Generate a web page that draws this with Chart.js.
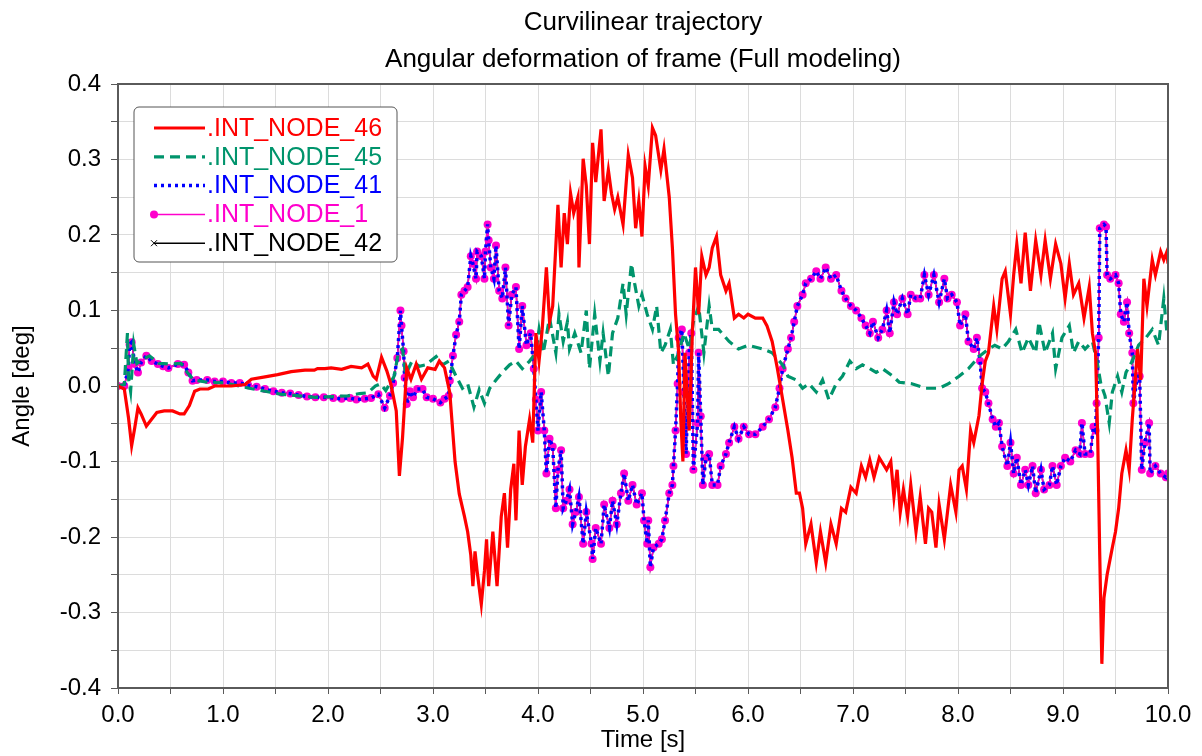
<!DOCTYPE html>
<html>
<head>
<meta charset="utf-8">
<script src="https://cdn.jsdelivr.net/npm/chart.js@4.4.1/dist/chart.umd.min.js"></script>
<style>
  html, body { margin: 0; padding: 0; background: #fff; }
  #wrap { width: 1202px; height: 756px; }
</style>
</head>
<body>
<div id="wrap"><canvas id="chart" width="1202" height="756"></canvas></div>
<script>
// [time s, angle deg]
var node46 = [[0,0],[0.06,-0.004],[0.1,-0.042],[0.13,-0.079],[0.16,-0.055],[0.19,-0.029],[0.22,-0.037],[0.27,-0.053],[0.32,-0.044],[0.37,-0.035],[0.44,-0.033],[0.52,-0.033],[0.59,-0.037],[0.63,-0.037],[0.68,-0.026],[0.73,-0.007],[0.78,-0.004],[0.86,-0.004],[0.92,0],[1.08,0],[1.21,0.002],[1.27,0.009],[1.4,0.012],[1.52,0.015],[1.65,0.019],[1.78,0.021],[1.87,0.021],[1.9,0.023],[1.97,0.023],[2.03,0.024],[2.13,0.022],[2.22,0.026],[2.32,0.024],[2.38,0.029],[2.43,0.013],[2.46,0.009],[2.51,0.038],[2.56,0.02],[2.6,0.002],[2.65,-0.033],[2.68,-0.119],[2.71,-0.068],[2.75,0.024],[2.79,0.009],[2.84,0.029],[2.89,0.009],[2.95,0.024],[3.02,0.022],[3.06,0.033],[3.11,0.024],[3.16,-0.009],[3.21,-0.1],[3.25,-0.143],[3.3,-0.173],[3.33,-0.193],[3.36,-0.224],[3.38,-0.265],[3.4,-0.219],[3.42,-0.245],[3.46,-0.289],[3.49,-0.245],[3.51,-0.203],[3.53,-0.265],[3.57,-0.193],[3.61,-0.265],[3.65,-0.173],[3.68,-0.142],[3.71,-0.214],[3.74,-0.137],[3.77,-0.103],[3.79,-0.178],[3.82,-0.059],[3.85,-0.131],[3.88,-0.08],[3.92,-0.044],[3.95,-0.075],[3.98,0.07],[4.01,0.033],[4.04,0.075],[4.08,0.157],[4.11,0.085],[4.14,0.106],[4.19,0.24],[4.22,0.157],[4.25,0.229],[4.28,0.188],[4.31,0.255],[4.34,0.229],[4.38,0.25],[4.39,0.157],[4.43,0.301],[4.46,0.265],[4.49,0.188],[4.52,0.322],[4.55,0.27],[4.6,0.34],[4.63,0.245],[4.67,0.286],[4.7,0.255],[4.73,0.234],[4.76,0.25],[4.81,0.214],[4.86,0.306],[4.9,0.276],[4.93,0.209],[4.96,0.245],[4.99,0.198],[5.02,0.291],[5.05,0.265],[5.09,0.342],[5.12,0.332],[5.17,0.286],[5.2,0.314],[5.25,0.25],[5.28,0.183],[5.31,0.095],[5.34,0.044],[5.36,-0.044],[5.38,-0.1],[5.4,0.044],[5.44,-0.059],[5.47,0.07],[5.5,0.157],[5.53,0.095],[5.56,0.172],[5.6,0.147],[5.63,0.157],[5.66,0.183],[5.7,0.198],[5.74,0.147],[5.79,0.126],[5.82,0.136],[5.87,0.09],[5.91,0.095],[5.96,0.09],[6.0,0.095],[6.07,0.09],[6.14,0.09],[6.18,0.08],[6.23,0.059],[6.28,0.023],[6.33,-0.018],[6.38,-0.059],[6.42,-0.095],[6.46,-0.142],[6.49,-0.142],[6.52,-0.162],[6.55,-0.209],[6.6,-0.183],[6.65,-0.234],[6.69,-0.193],[6.74,-0.234],[6.79,-0.183],[6.84,-0.209],[6.89,-0.162],[6.93,-0.167],[6.98,-0.134],[7.03,-0.142],[7.08,-0.106],[7.12,-0.121],[7.16,-0.098],[7.2,-0.121],[7.25,-0.095],[7.32,-0.111],[7.36,-0.1],[7.39,-0.147],[7.42,-0.111],[7.45,-0.167],[7.48,-0.137],[7.52,-0.173],[7.55,-0.131],[7.6,-0.193],[7.64,-0.147],[7.69,-0.209],[7.72,-0.162],[7.75,-0.167],[7.79,-0.214],[7.82,-0.157],[7.87,-0.203],[7.93,-0.131],[7.98,-0.167],[8.01,-0.111],[8.04,-0.106],[8.08,-0.137],[8.12,-0.059],[8.15,-0.075],[8.2,-0.039],[8.23,0.003],[8.26,0.033],[8.29,0.044],[8.34,0.106],[8.37,0.075],[8.42,0.142],[8.45,0.152],[8.5,0.095],[8.53,0.147],[8.56,0.188],[8.6,0.136],[8.64,0.203],[8.69,0.126],[8.74,0.193],[8.79,0.147],[8.83,0.193],[8.88,0.142],[8.93,0.188],[8.98,0.162],[9.02,0.116],[9.06,0.162],[9.1,0.121],[9.15,0.136],[9.2,0.09],[9.25,0.131],[9.28,0.07],[9.31,0.044],[9.33,-0.064],[9.35,-0.224],[9.37,-0.368],[9.39,-0.281],[9.42,-0.25],[9.47,-0.214],[9.5,-0.193],[9.53,-0.162],[9.56,-0.116],[9.6,-0.085],[9.63,-0.111],[9.66,-0.044],[9.71,0.049],[9.74,0.008],[9.77,0.142],[9.8,0.106],[9.85,0.167],[9.88,0.147],[9.93,0.178],[9.96,0.167],[9.99,0.178],[10,0.162]];

var node45 = [[0,0],[0.06,0.002],[0.09,0.07],[0.1,0.01],[0.12,-0.007],[0.15,0.055],[0.18,0.03],[0.22,0.034],[0.3,0.04],[0.39,0.03],[0.5,0.029],[0.6,0.03],[0.66,0.018],[0.72,0.008],[0.85,0.005],[1.02,0.004],[1.25,-0.003],[1.4,-0.007],[1.56,-0.011],[1.72,-0.013],[1.88,-0.015],[2.05,-0.014],[2.19,-0.013],[2.3,-0.01],[2.38,-0.009],[2.45,0.0],[2.5,0.003],[2.55,-0.006],[2.63,0.013],[2.67,0.044],[2.71,0.049],[2.74,0.015],[2.8,0.033],[2.87,0.026],[2.93,0.028],[3.03,0.039],[3.09,0.028],[3.15,0.033],[3.22,0.013],[3.28,-0.003],[3.33,0.003],[3.39,-0.028],[3.44,-0.005],[3.49,-0.023],[3.54,-0.003],[3.6,0.008],[3.66,0.018],[3.73,0.028],[3.79,0.033],[3.85,0.023],[3.92,0.033],[3.98,0.044],[4.01,0.075],[4.05,0.044],[4.11,0.09],[4.17,0.044],[4.2,0.095],[4.24,0.059],[4.28,0.085],[4.3,0.049],[4.35,0.07],[4.41,0.044],[4.46,0.1],[4.49,0.023],[4.54,0.095],[4.59,0.033],[4.62,0.07],[4.67,0.013],[4.71,0.07],[4.76,0.09],[4.81,0.136],[4.84,0.095],[4.89,0.162],[4.92,0.136],[4.96,0.106],[4.99,0.121],[5.04,0.095],[5.09,0.075],[5.13,0.106],[5.17,0.044],[5.21,0.054],[5.26,0.075],[5.29,0.028],[5.34,0.044],[5.39,0.07],[5.44,0.049],[5.48,0.085],[5.53,0.106],[5.58,0.044],[5.63,0.106],[5.66,0.075],[5.72,0.075],[5.82,0.059],[5.91,0.049],[6.0,0.054],[6.14,0.049],[6.23,0.044],[6.33,0.028],[6.38,0.013],[6.46,0.008],[6.52,-0.003],[6.58,0.003],[6.65,-0.008],[6.71,0.008],[6.77,-0.018],[6.84,0.003],[6.9,0.013],[6.97,0.033],[7.03,0.023],[7.09,0.028],[7.16,0.023],[7.22,0.018],[7.28,0.023],[7.38,0.013],[7.44,0.005],[7.56,0.003],[7.69,-0.003],[7.82,-0.003],[7.91,0.003],[8.01,0.013],[8.1,0.023],[8.2,0.039],[8.29,0.049],[8.35,0.054],[8.42,0.049],[8.48,0.059],[8.55,0.075],[8.61,0.044],[8.67,0.064],[8.74,0.044],[8.77,0.085],[8.83,0.044],[8.9,0.07],[8.93,0.023],[8.99,0.064],[9.06,0.08],[9.1,0.044],[9.15,0.059],[9.21,0.049],[9.28,0.059],[9.33,0.028],[9.36,0.003],[9.4,-0.013],[9.44,-0.049],[9.47,-0.008],[9.52,0.013],[9.56,-0.008],[9.6,0.018],[9.66,0.033],[9.72,0.054],[9.79,0.064],[9.85,0.075],[9.91,0.054],[9.96,0.116],[9.99,0.07],[10,0.085]];

// nodes 41, 1 and 42 move together
var node41 = [[0,0],[0.06,0],[0.1,0.024],[0.11,0.055],[0.13,0.058],[0.16,0.029],[0.19,0.018],[0.22,0.031],[0.27,0.04],[0.32,0.033],[0.38,0.029],[0.43,0.026],[0.48,0.024],[0.57,0.029],[0.63,0.028],[0.67,0.018],[0.71,0.007],[0.75,0.008],[0.85,0.008],[0.92,0.006],[1.0,0.006],[1.08,0.004],[1.16,0.004],[1.24,0.001],[1.32,-0.001],[1.4,-0.004],[1.48,-0.007],[1.56,-0.009],[1.64,-0.01],[1.72,-0.012],[1.8,-0.014],[1.88,-0.015],[1.96,-0.015],[2.05,-0.016],[2.13,-0.017],[2.21,-0.016],[2.27,-0.018],[2.35,-0.017],[2.41,-0.016],[2.48,-0.011],[2.54,-0.029],[2.59,-0.013],[2.62,0.004],[2.66,0.037],[2.69,0.1],[2.7,0.08],[2.72,0.046],[2.73,0.011],[2.75,-0.024],[2.78,-0.007],[2.81,-0.015],[2.85,-0.004],[2.9,-0.004],[2.94,-0.015],[3.0,-0.017],[3.07,-0.022],[3.11,-0.017],[3.15,-0.013],[3.16,0.007],[3.19,0.04],[3.22,0.068],[3.25,0.085],[3.27,0.121],[3.3,0.126],[3.33,0.131],[3.36,0.172],[3.38,0.162],[3.41,0.142],[3.42,0.178],[3.46,0.172],[3.49,0.142],[3.5,0.178],[3.52,0.214],[3.53,0.193],[3.55,0.157],[3.58,0.142],[3.6,0.186],[3.63,0.126],[3.66,0.116],[3.69,0.157],[3.72,0.08],[3.75,0.121],[3.79,0.131],[3.82,0.049],[3.85,0.106],[3.89,0.054],[3.93,0.07],[3.96,0.023],[3.98,-0.018],[4.0,-0.059],[4.03,-0.008],[4.06,-0.059],[4.08,-0.116],[4.11,-0.07],[4.14,-0.08],[4.17,-0.162],[4.19,-0.111],[4.22,-0.085],[4.24,-0.162],[4.27,-0.152],[4.3,-0.137],[4.33,-0.183],[4.36,-0.167],[4.39,-0.147],[4.43,-0.209],[4.46,-0.167],[4.51,-0.209],[4.52,-0.229],[4.55,-0.188],[4.6,-0.209],[4.63,-0.157],[4.68,-0.188],[4.71,-0.152],[4.75,-0.183],[4.79,-0.142],[4.82,-0.116],[4.86,-0.152],[4.9,-0.131],[4.94,-0.157],[4.99,-0.142],[5.01,-0.178],[5.04,-0.209],[5.05,-0.178],[5.07,-0.24],[5.1,-0.214],[5.15,-0.209],[5.18,-0.203],[5.21,-0.178],[5.25,-0.142],[5.28,-0.131],[5.29,-0.106],[5.31,-0.059],[5.33,0.003],[5.34,0.064],[5.37,0.075],[5.39,-0.008],[5.41,-0.09],[5.44,0.044],[5.46,0.07],[5.48,-0.111],[5.52,-0.049],[5.53,0.044],[5.55,-0.04],[5.57,-0.131],[5.6,-0.095],[5.63,-0.09],[5.66,-0.131],[5.71,-0.131],[5.74,-0.106],[5.79,-0.09],[5.82,-0.075],[5.87,-0.054],[5.91,-0.07],[5.96,-0.054],[6.01,-0.064],[6.07,-0.064],[6.14,-0.054],[6.2,-0.044],[6.26,-0.028],[6.3,-0.003],[6.33,0.023],[6.38,0.049],[6.41,0.064],[6.44,0.085],[6.47,0.106],[6.52,0.121],[6.55,0.136],[6.6,0.142],[6.65,0.152],[6.69,0.142],[6.74,0.157],[6.79,0.142],[6.84,0.147],[6.89,0.126],[6.93,0.116],[6.98,0.106],[7.03,0.1],[7.08,0.09],[7.12,0.08],[7.16,0.07],[7.19,0.085],[7.24,0.064],[7.28,0.075],[7.32,0.1],[7.35,0.07],[7.39,0.111],[7.42,0.095],[7.47,0.116],[7.52,0.095],[7.55,0.121],[7.6,0.116],[7.64,0.116],[7.68,0.147],[7.72,0.121],[7.77,0.147],[7.82,0.111],[7.87,0.142],[7.9,0.116],[7.94,0.121],[7.99,0.111],[8.02,0.08],[8.07,0.095],[8.1,0.059],[8.15,0.049],[8.18,0.064],[8.21,0.033],[8.23,-0.003],[8.26,-0.008],[8.29,-0.023],[8.33,-0.044],[8.36,-0.054],[8.39,-0.049],[8.42,-0.08],[8.47,-0.106],[8.5,-0.075],[8.53,-0.116],[8.56,-0.095],[8.6,-0.131],[8.64,-0.111],[8.67,-0.131],[8.71,-0.106],[8.74,-0.142],[8.79,-0.111],[8.82,-0.137],[8.87,-0.131],[8.9,-0.106],[8.94,-0.131],[8.98,-0.106],[9.02,-0.095],[9.07,-0.1],[9.12,-0.085],[9.16,-0.09],[9.18,-0.049],[9.21,-0.09],[9.26,-0.09],[9.29,-0.054],[9.31,-0.059],[9.32,-0.023],[9.34,0.064],[9.35,0.209],[9.39,0.214],[9.41,0.211],[9.42,0.147],[9.45,0.142],[9.5,0.147],[9.53,0.136],[9.55,0.095],[9.58,0.085],[9.61,0.111],[9.63,0.07],[9.66,0.044],[9.67,-0.023],[9.71,0.013],[9.73,0.013],[9.75,-0.111],[9.78,-0.075],[9.82,-0.049],[9.83,-0.116],[9.88,-0.106],[9.93,-0.116],[9.98,-0.121],[10,-0.116]];

var seriesNames = ['.INT_NODE_46', '.INT_NODE_45', '.INT_NODE_41', '.INT_NODE_1', '.INT_NODE_42'];
var titleLines = ['Curvilinear trajectory', 'Angular deformation of frame (Full modeling)'];
var xTitle = 'Time [s]';
var yTitle = 'Angle [deg]';

var FONT = "'Liberation Sans', Arial, sans-serif";

function toXY(arr) {
  return arr.map(function (p) { return {x: p[0], y: p[1]}; });
}

// title centred over the plot, box around the plot, inset legend
var framePlugin = {
  id: 'frame',
  afterDraw: function (chart) {
    var ctx = chart.ctx;
    var a = chart.chartArea;
    var cx = (a.left + a.right) / 2;
    ctx.save();

    ctx.fillStyle = '#000';
    ctx.font = '26px ' + FONT;
    ctx.textAlign = 'center';
    ctx.textBaseline = 'alphabetic';
    ctx.fillText(titleLines[0], cx, 30);
    ctx.fillText(titleLines[1], cx, 67);

    ctx.strokeStyle = '#5a5a5a';
    ctx.lineWidth = 2;
    ctx.strokeRect(a.left, a.top, a.right - a.left, a.bottom - a.top);

    // legend
    var bx = a.left + 16, by = a.top + 23, bw = 263, bh = 155, r = 5;
    ctx.beginPath();
    ctx.moveTo(bx + r, by);
    ctx.arcTo(bx + bw, by, bx + bw, by + bh, r);
    ctx.arcTo(bx + bw, by + bh, bx, by + bh, r);
    ctx.arcTo(bx, by + bh, bx, by, r);
    ctx.arcTo(bx, by, bx + bw, by, r);
    ctx.closePath();
    ctx.fillStyle = '#fff';
    ctx.fill();
    ctx.lineWidth = 1;
    ctx.strokeStyle = '#555';
    ctx.stroke();

    ctx.font = '25px ' + FONT;
    ctx.textBaseline = 'middle';
    ctx.textAlign = 'left';
    chart.data.datasets.forEach(function (ds, i) {
      var y = a.top + 44 + i * 28.8;
      var x0 = a.left + 36, x1 = a.left + 87;
      ctx.save();
      ctx.strokeStyle = ds.borderColor;
      ctx.lineWidth = ds.borderWidth;
      ctx.setLineDash(ds.borderDash || []);
      ctx.beginPath();
      ctx.moveTo(x0, y);
      ctx.lineTo(x1, y);
      ctx.stroke();
      ctx.setLineDash([]);
      if (ds.pointStyle === 'circle') {
        ctx.fillStyle = ds.pointBackgroundColor;
        ctx.beginPath();
        ctx.arc(x0, y, 4, 0, Math.PI * 2);
        ctx.fill();
      } else if (ds.pointStyle === 'crossRot') {
        ctx.lineWidth = 1;
        ctx.beginPath();
        ctx.moveTo(x0 - 3, y - 3); ctx.lineTo(x0 + 3, y + 3);
        ctx.moveTo(x0 - 3, y + 3); ctx.lineTo(x0 + 3, y - 3);
        ctx.stroke();
      }
      ctx.restore();
      ctx.fillStyle = ds.borderColor;
      ctx.fillText(ds.label, x1 + 2, y + 1);
    });
    ctx.restore();
  }
};

var ctx = document.getElementById('chart');
new Chart(ctx, {
  type: 'line',
  data: {
    datasets: [
      {
        label: seriesNames[0], data: toXY(node46),
        borderColor: '#ff0000', borderWidth: 3.2, pointRadius: 0
      },
      {
        label: seriesNames[1], data: toXY(node45),
        borderColor: '#00946c', borderWidth: 3.2, borderDash: [10, 6], pointRadius: 0
      },
      {
        label: seriesNames[2], data: toXY(node41),
        borderColor: '#0000ff', borderWidth: 3.5, borderDash: [3, 4], pointRadius: 0
      },
      {
        label: seriesNames[3], data: toXY(node41),
        borderColor: '#ff00cc', borderWidth: 1.5,
        pointStyle: 'circle', pointRadius: 4, pointBorderWidth: 0,
        pointBackgroundColor: '#ff00cc'
      },
      {
        label: seriesNames[4], data: toXY(node41),
        borderColor: '#000000', borderWidth: 1.5,
        pointStyle: 'crossRot', pointRadius: 3, pointBorderWidth: 1
      }
    ]
  },
  options: {
    responsive: false,
    animation: false,
    events: [],
    layout: {padding: {left: 0, right: 34, top: 84, bottom: 0}},
    elements: {line: {tension: 0, fill: false}},
    plugins: {
      legend: {display: false},
      tooltip: {enabled: false},
      title: {display: false}
    },
    scales: {
      x: {
        type: 'linear',
        min: 0, max: 10,
        afterFit: function (s) { s.height = 68; },
        grid: {color: '#dcdcdc', lineWidth: 1, tickLength: 6, tickColor: '#5a5a5a'},
        border: {display: true, color: '#5a5a5a', width: 2},
        ticks: {
          stepSize: 0.5, autoSkip: false, maxRotation: 0, padding: 7,
          color: '#000', font: {family: FONT, size: 24},
          callback: function (v) {
            var r = Math.round(v * 10);
            return r % 10 === 0 ? (r / 10).toFixed(1) : '';
          }
        },
        title: {
          display: true, text: xTitle, color: '#000',
          font: {family: FONT, size: 24}, padding: {top: 0, bottom: 1}
        }
      },
      y: {
        min: -0.4, max: 0.4,
        afterFit: function (s) { s.width = 118; },
        grid: {color: '#dcdcdc', lineWidth: 1, tickLength: 7, tickColor: '#5a5a5a'},
        border: {display: true, color: '#5a5a5a', width: 2},
        ticks: {
          stepSize: 0.05, autoSkip: false, padding: 10,
          color: '#000', font: {family: FONT, size: 24},
          callback: function (v) {
            var r = Math.round(v * 100);
            return r % 10 === 0 ? (r / 100).toFixed(1) : '';
          }
        },
        title: {
          display: true, text: yTitle, color: '#000',
          font: {family: FONT, size: 24}, padding: {top: 8, bottom: 0}
        }
      }
    }
  },
  plugins: [framePlugin]
});
</script>
</body>
</html>
